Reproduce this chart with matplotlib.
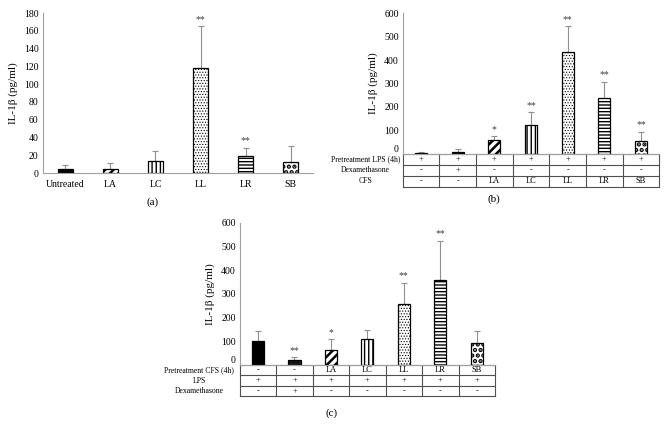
import matplotlib.pyplot as plt
import matplotlib.transforms as mtransforms

plt.rcParams['font.family'] = ['Liberation Serif', 'DejaVu Serif']
plt.rcParams['hatch.color'] = 'black'

# panel (a)
a_labels = ["Untreated", "LA", "LC", "LL", "LR", "SB"]
a_vals = [5, 5, 14, 118, 19, 13]
a_err = [4, 6, 11, 47, 9, 17]
a_stars = ["", "", "", "**", "**", ""]

# panel (b)
b_vals = [4, 10, 60, 125, 435, 237, 55]
b_err = [3, 9, 15, 53, 110, 71, 40]
b_stars = ["", "", "*", "**", "**", "**", "**"]
b_rows = ["Pretreatment LPS (4h)", "Dexamethasone", "CFS"]
b_cells = [["+", "+", "+", "+", "+", "+", "+"],
           ["-", "+", "-", "-", "-", "-", "-"],
           ["-", "-", "LA", "LC", "LL", "LR", "SB"]]

# panel (c)
c_vals = [100, 21, 64, 110, 257, 359, 92]
c_err = [44, 11, 45, 38, 89, 165, 51]
c_stars = ["", "**", "*", "", "**", "**", ""]
c_rows = ["Pretreatment CFS (4h)", "LPS", "Dexamethasone"]
c_cells = [["-", "-", "LA", "LC", "LL", "LR", "SB"],
           ["+", "+", "+", "+", "+", "+", "+"],
           ["-", "+", "-", "-", "-", "-", "-"]]

# fill style per bar kind
styles = {
    "black": dict(color="black", hatch=None, lw=1.0),
    "dark": dict(color="#1a1a1a", hatch="....", lw=0.5),
    "LA": dict(color="white", hatch="////", lw=1.8),
    "LC": dict(color="white", hatch="||||", lw=1.0),
    "LL": dict(color="white", hatch="......", lw=0.5),
    "LR": dict(color="white", hatch="-----", lw=1.0),
    "SB": dict(color="white", hatch="...", lw=2.2),
}


def draw_bars(ax, vals, err, kinds, stars, star_gap):
    for i, (v, e, k, s) in enumerate(zip(vals, err, kinds, stars)):
        st = styles[k]
        ax.errorbar(i, v, yerr=[[0], [e]], ecolor="#909090", elinewidth=0.8,
                    capsize=2.5, capthick=0.8, fmt="none", zorder=1)
        bar = ax.bar(i, v, width=0.33, color=st["color"], edgecolor="black",
                     linewidth=0.9, hatch=st["hatch"], zorder=2)[0]
        if hasattr(bar, "set_hatch_linewidth"):
            bar.set_hatch_linewidth(st["lw"])
        if s:
            ax.text(i, v + e + star_gap, s, ha="center", va="bottom",
                    fontsize=7, color="#404040")


def style_axes(ax, top, step):
    ax.set_ylim(0, top)
    ax.set_yticks(range(0, top + 1, step))
    for sp in ["top", "right"]:
        ax.spines[sp].set_visible(False)
    ax.spines["left"].set_color("#a0a0a0")
    ax.spines["bottom"].set_color("#a0a0a0")
    ax.tick_params(axis="both", length=0, labelsize=7, pad=3)
    ax.set_ylabel("IL-1β (pg/ml)", fontsize=8)


def draw_table(ax, rows, cells, row_h, label_x):
    n = len(cells[0])
    trans = mtransforms.blended_transform_factory(ax.transData, ax.transAxes)
    lab = mtransforms.blended_transform_factory(ax.transAxes, ax.transAxes)
    nr = len(rows)
    for r in range(nr + 1):
        ax.plot([-0.5, n - 0.5], [-r * row_h] * 2, transform=trans,
                color="#505050", lw=0.8, clip_on=False)
    for c in range(n + 1):
        ax.plot([c - 0.5] * 2, [0, -nr * row_h], transform=trans,
                color="#505050", lw=0.8, clip_on=False)
    for r, name in enumerate(rows):
        y = -(r + 0.5) * row_h
        ax.text(label_x, y, name, transform=lab, ha="center", va="center",
                fontsize=5.6)
        for c, txt in enumerate(cells[r]):
            ax.text(c, y, txt, transform=trans, ha="center", va="center",
                    fontsize=6)
    # lift the zero label clear of the table
    ax.get_yticklabels()[0].set_va("bottom")


fig = plt.figure(figsize=(6.68, 4.36), dpi=100)

# (a)
ax1 = fig.add_axes([0.064, 0.603, 0.405, 0.367])
draw_bars(ax1, a_vals, a_err, ["black", "LA", "LC", "LL", "LR", "SB"],
          a_stars, 3)
style_axes(ax1, 180, 20)
ax1.set_xlim(-0.5, len(a_vals) - 0.5)
ax1.set_xticks(range(len(a_labels)))
ax1.set_xticklabels(a_labels, fontsize=7)
ax1.tick_params(axis="x", pad=5)
fig.text(0.228, 0.537, "(a)", ha="center", va="center", fontsize=8)

# (b)
ax2 = fig.add_axes([0.603, 0.647, 0.384, 0.323])
draw_bars(ax2, b_vals, b_err, ["black", "black", "LA", "LC", "LL", "LR", "SB"],
          b_stars, 10)
style_axes(ax2, 600, 100)
ax2.set_xlim(-0.5, len(b_vals) - 0.5)
ax2.set_xticks([])
draw_table(ax2, b_rows, b_cells, 0.078, -0.145)
fig.text(0.740, 0.544, "(b)", ha="center", va="center", fontsize=8)

# (c)
ax3 = fig.add_axes([0.359, 0.163, 0.382, 0.326])
draw_bars(ax3, c_vals, c_err, ["black", "dark", "LA", "LC", "LL", "LR", "SB"],
          c_stars, 10)
style_axes(ax3, 600, 100)
ax3.set_xlim(-0.5, len(c_vals) - 0.5)
ax3.set_xticks([])
draw_table(ax3, c_rows, c_cells, 0.074, -0.16)
fig.text(0.497, 0.053, "(c)", ha="center", va="center", fontsize=8)

fig.savefig("out.png", dpi=100)
